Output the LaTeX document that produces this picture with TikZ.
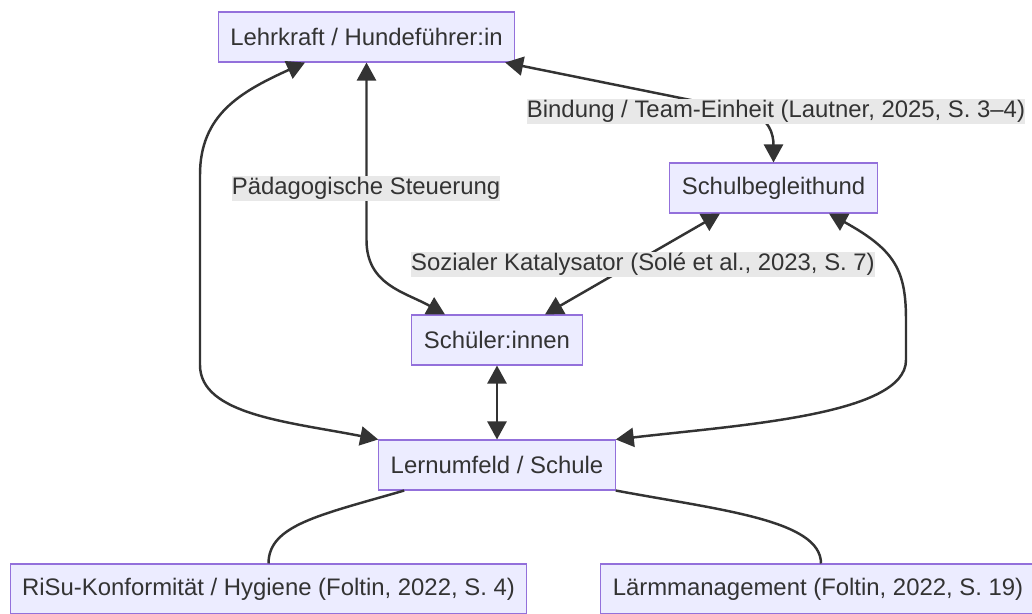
\documentclass[tikz,border=0pt]{standalone}
\usepackage{fontspec}
\setmainfont{Liberation Sans}
\usepackage{xcolor}
\usepackage{tikz}
\usetikzlibrary{arrows.meta,calc}
\definecolor{nodefill}{HTML}{ECECFF}
\definecolor{nodeline}{HTML}{9370DB}
\definecolor{ink}{HTML}{333333}
\definecolor{lblbg}{HTML}{E8E8E8}
\tikzset{
  box/.style={draw=nodeline,fill=nodefill,line width=0.6pt,text=ink,inner xsep=0.24cm,minimum height=1cm,font=\fontsize{13.6}{16}\selectfont},
  lbl/.style={fill=lblbg,text=ink,inner xsep=0pt,inner ysep=0pt,minimum height=0.5cm,font=\fontsize{13.6}{16}\selectfont},
  arrb/.style={{Triangle[length=3.6mm,width=3.8mm]}-{Triangle[length=3.6mm,width=3.8mm]},line width=1.4pt,draw=ink},
  lnk/.style={line width=1.4pt,draw=ink},
}

\begin{document}
\begin{tikzpicture}[x=0.02cm,y=-0.02cm]
\useasboundingbox[fill=white] (0,0) rectangle (1032,613);
% boxes
\node[box] (lk) at (366.5,37) {Lehrkraft / Hundeführer:in};
\node[box] (hund) at (773.5,188) {Schulbegleithund};
\node[box] (schueler) at (497,340) {Schüler:innen};
\node[box] (lernum) at (497,465) {Lernumfeld / Schule};
\node[box] (risu) at (268.5,589) {RiSu-Konformität / Hygiene (Foltin, 2022, S.~4)};
\node[box] (laerm) at (818,589) {Lärmmanagement (Foltin, 2022, S.~19)};
% connectors
\draw[arrb] ($(lk.south)+(-61.5,0)$) .. controls (240,92) and (200,115) .. (200,175) -- (200,365) .. controls (200,415) and (290,422) .. (lernum.north west);
\draw[arrb] (lk.south) -- (366.5,240) .. controls (366.5,285) and (405,292) .. ($(schueler.north)+(-52,0)$);
\draw[arrb] ($(lk.south east)+(-10,0)$) -- (745,111) .. controls (770,117) and (773.5,135) .. (hund.north);
\draw[arrb] ($(hund.south)+(-53.5,0)$) -- ($(schueler.north)+(48,0)$);
\draw[arrb] ($(hund.south)+(55.5,0)$) .. controls (895,250) and (906,270) .. (906,320) -- (906,360) .. controls (906,415) and (740,425) .. (lernum.north east);
\draw[arrb] (schueler.south) -- (lernum.north);
\draw[lnk] ($(lernum.south west)+(26,0)$) .. controls (320,515) and (268.5,525) .. (risu.north);
\draw[lnk] (lernum.south east) .. controls (720,510) and (821,520) .. ($(laerm.north)+(3,0)$);
% edge labels
\node[lbl] (lblbind) at (776,111) {Bindung / Team-Einheit (Lautner, 2025, S.~3–4)};
\node[lbl] (lblpaed) at (366,188) {Pädagogische Steuerung};
\node[lbl] (lblsoz) at (643,264) {Sozialer Katalysator (Solé et al., 2023, S.~7)};
\end{tikzpicture}
\end{document}
